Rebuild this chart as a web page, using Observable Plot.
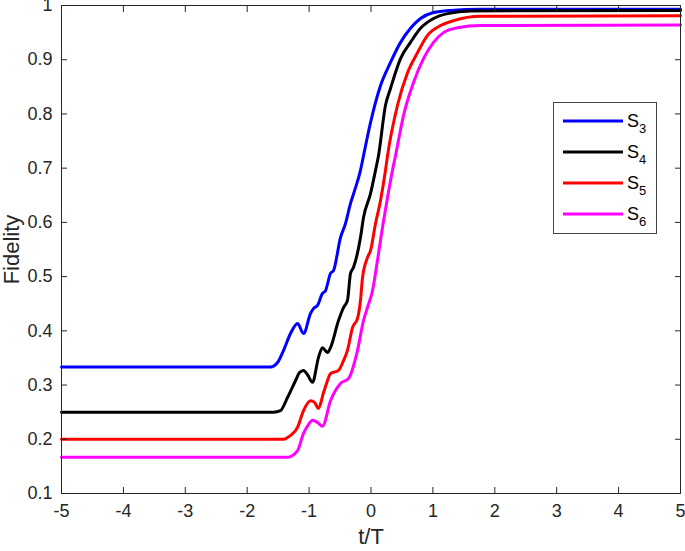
<!DOCTYPE html>
<html>
<head>
<meta charset="utf-8">
<script src="https://cdn.jsdelivr.net/npm/d3@7"></script>
<script src="https://cdn.jsdelivr.net/npm/@observablehq/plot@0.6"></script>
<style>
  html, body { margin: 0; padding: 0; background: #fff; }
  #chart { width: 685px; height: 551px; }
</style>
</head>
<body>
<div id="chart"></div>
<script>
// ---- data ----
const seriesNames = ["S3", "S4", "S5", "S6"];
const seriesColors = ["#0000ff", "#000000", "#ff0000", "#ff00ff"];

const s3T = [-5, -1.785, -1.624, -1.51, -1.414, -1.30, -1.187, -1.09, -0.977, -0.929, -0.864, -0.784, -0.735, -0.654, -0.606, -0.493, -0.412, -0.331, -0.25, -0.17, -0.121, -0.008, 0.153, 0.315, 0.477, 0.638, 0.8, 1.01, 1.28, 1.77, 5];
const s3F = [0.3333, 0.3333, 0.3333, 0.3416, 0.3637, 0.395, 0.4135, 0.395, 0.432, 0.441, 0.447, 0.469, 0.474, 0.506, 0.511, 0.572, 0.598, 0.635, 0.664, 0.696, 0.723, 0.784, 0.852, 0.895, 0.932, 0.958, 0.976, 0.987, 0.991, 0.993, 0.993];

const s4T = [-5, -1.575, -1.462, -1.349, -1.22, -1.155, -1.09, -1.026, -0.945, -0.848, -0.784, -0.703, -0.654, -0.525, -0.444, -0.38, -0.331, -0.283, -0.17, -0.121, -0.008, 0.073, 0.121, 0.234, 0.315, 0.477, 0.638, 0.8, 1.01, 1.236, 1.607, 5];
const s4F = [0.25, 0.25, 0.253, 0.277, 0.308, 0.323, 0.327, 0.319, 0.305, 0.351, 0.369, 0.360, 0.369, 0.419, 0.443, 0.456, 0.506, 0.517, 0.572, 0.609, 0.653, 0.696, 0.723, 0.816, 0.847, 0.902, 0.932, 0.958, 0.976, 0.985, 0.990, 0.991];

const s5T = [-5, -1.414, -1.30, -1.187, -1.09, -0.977, -0.913, -0.848, -0.767, -0.703, -0.654, -0.525, -0.444, -0.38, -0.299, -0.218, -0.17, -0.137, -0.057, -0.008, 0.073, 0.153, 0.234, 0.267, 0.428, 0.59, 0.751, 0.913, 1.123, 1.333, 1.77, 5];
const s5F = [0.2, 0.2, 0.207, 0.222, 0.253, 0.271, 0.268, 0.257, 0.286, 0.308, 0.321, 0.327, 0.345, 0.364, 0.406, 0.423, 0.456, 0.498, 0.535, 0.548, 0.598, 0.640, 0.696, 0.723, 0.816, 0.876, 0.913, 0.945, 0.963, 0.972, 0.980, 0.981];

const s6T = [-5, -1.349, -1.187, -1.09, -1.01, -0.945, -0.864, -0.784, -0.654, -0.493, -0.363, -0.218, -0.121, -0.057, 0.024, 0.105, 0.186, 0.267, 0.347, 0.396, 0.525, 0.687, 0.848, 1.01, 1.171, 1.397, 1.77, 5];
const s6F = [0.1667, 0.1667, 0.179, 0.211, 0.227, 0.235, 0.231, 0.224, 0.271, 0.303, 0.312, 0.364, 0.419, 0.443, 0.474, 0.530, 0.591, 0.646, 0.696, 0.723, 0.797, 0.858, 0.902, 0.932, 0.950, 0.959, 0.963, 0.964];

const xTicks = [-5, -4, -3, -2, -1, 0, 1, 2, 3, 4, 5];
const yTicks = [0.1, 0.2, 0.3, 0.4, 0.5, 0.6, 0.7, 0.8, 0.9, 1];

const allT = [s3T, s4T, s5T, s6T];
const allF = [s3F, s4F, s5F, s6F];
const data = seriesNames.flatMap((name, i) =>
  allT[i].map((t, j) => ({series: name, t, F: allF[i][j]})));

const axisColor = "#262626";
const fontFamily = "'Liberation Sans', Arial, Helvetica, sans-serif";
const fs = 18;
const labelFs = 22;

const chart = Plot.plot({
  width: 685,
  height: 551,
  marginLeft: 61,
  marginRight: 5,
  marginTop: 5,
  marginBottom: 58,
  style: {fontFamily, fontSize: fs + "px", color: axisColor, background: "#fff", overflow: "visible"},
  x: {domain: [-5, 5]},
  y: {domain: [0.1, 1]},
  color: {domain: seriesNames, range: seriesColors},
  marks: [
    Plot.line(data, {x: "t", y: "F", z: "series", stroke: "series", strokeWidth: 3, curve: "monotone-x"}),
    Plot.frame({stroke: axisColor, strokeWidth: 1}),
    Plot.axisX({anchor: "bottom", ticks: xTicks, tickSize: -6, tickPadding: 17, tickFormat: d => String(d), label: "t/T", labelAnchor: "center", labelArrow: "none", labelOffset: 50, stroke: axisColor, fill: axisColor}),
    Plot.axisX({anchor: "top", ticks: xTicks, tickSize: -6, tickFormat: () => "", label: null, stroke: axisColor}),
    Plot.axisY({anchor: "left", ticks: yTicks, tickSize: -6, tickPadding: 15, tickFormat: d3.format("~g"), label: "Fidelity", labelAnchor: "center", labelArrow: "none", labelOffset: 58, stroke: axisColor, fill: axisColor}),
    Plot.axisY({anchor: "right", ticks: yTicks, tickSize: -6, tickFormat: () => "", label: null, stroke: axisColor})
  ]
});

document.getElementById("chart").appendChild(chart);

const svg = d3.select(chart);
// enforce MATLAB-like font sizes on every text of the axes
svg.selectAll("g").attr("font-size", null);
svg.selectAll("text").style("font-size", fs + "px").style("font-family", fontFamily);
svg.selectAll("text").filter(function() {
  const s = this.textContent.trim();
  return s === "t/T" || s === "Fidelity";
}).style("font-size", labelFs + "px");

// ---- legend (MATLAB-style box, top right inside axes) ----
const lg = svg.append("g").attr("font-family", fontFamily).attr("text-anchor", "start");
lg.append("rect").attr("x", 553.5).attr("y", 102.5).attr("width", 103).attr("height", 131)
  .attr("fill", "#fff").attr("stroke", "#444").attr("stroke-width", 1);
seriesNames.forEach((name, i) => {
  const y = 121 + i * 31;
  lg.append("line").attr("x1", 563).attr("x2", 623).attr("y1", y).attr("y2", y)
    .attr("stroke", seriesColors[i]).attr("stroke-width", 3);
  const t = lg.append("text").attr("x", 627).attr("y", y + 6).style("font-size", fs + "px").attr("fill", "#000");
  t.append("tspan").text(name[0]);
  t.append("tspan").style("font-size", "13px").attr("dy", 6).text(name.slice(1));
});
</script>
</body>
</html>
